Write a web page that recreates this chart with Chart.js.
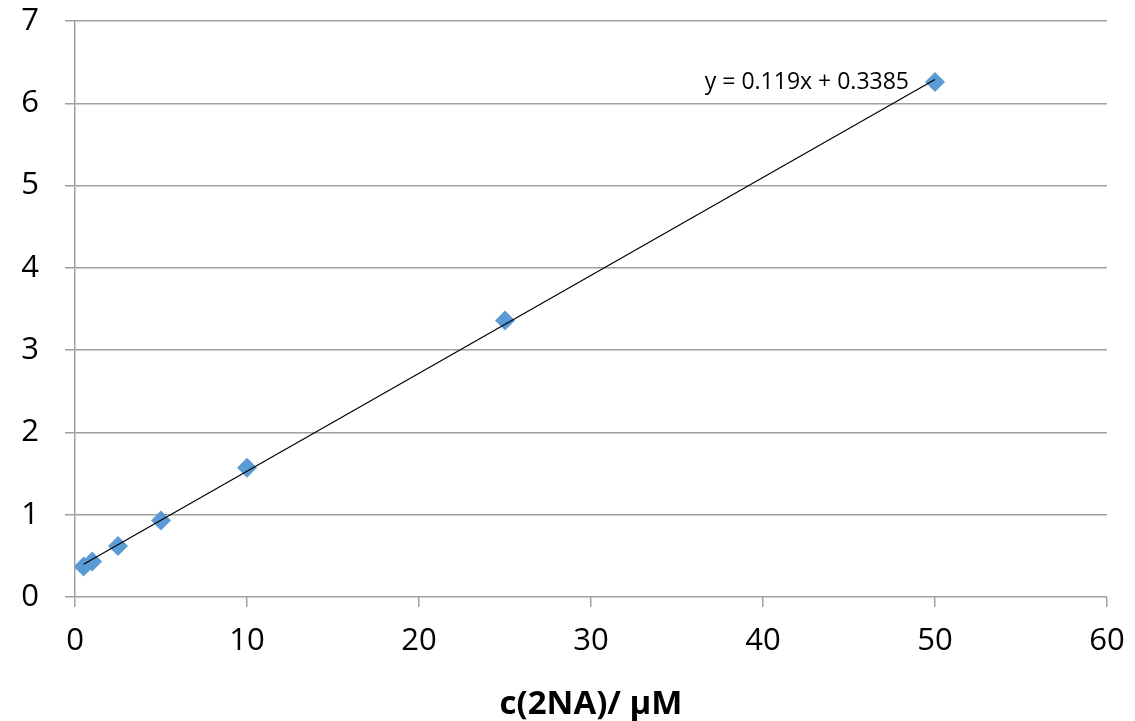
<!DOCTYPE html>
<html lang="en">
  <head>
    <meta charset="UTF-8" />
    <script src="https://cdn.jsdelivr.net/npm/chart.js"></script>
    <title>c(2NA) calibration</title>
    <style>
      html,
      body {
        margin: 0;
        padding: 0;
        background: #ffffff;
      }
      canvas {
        display: block;
      }
    </style>
  </head>
  <body>
    <canvas id="myChart" width="1135" height="721"></canvas>
  </body>
</html>
<script>
  // measured points
  const concentration = [0.5, 1, 2.5, 5, 10, 25, 50];
  const signal = [0.37, 0.43, 0.62, 0.93, 1.57, 3.36, 6.26];

  // linear trendline, ends at first and last x
  const trendX = [0.5, 50];
  const trendY = [0.398, 6.289];
  const trendLabel = "y = 0.119x + 0.3385";

  const xTicks = [0, 10, 20, 30, 40, 50, 60];
  const yTicks = [0, 1, 2, 3, 4, 5, 6, 7];

  const FONT = "'Open Sans', 'DejaVu Sans', sans-serif";
  const GRID = "#a0a0a0";

  // draws the equation next to the last point
  const trendLabelPlugin = {
    id: "trendLabel",
    afterDatasetsDraw(chart) {
      const { ctx, scales } = chart;
      const px = scales.x.getPixelForValue(trendX[1]) - 26;
      const py = scales.y.getPixelForValue(signal[signal.length - 1]) + 1;
      ctx.save();
      ctx.font = "23px " + FONT;
      ctx.fillStyle = "#000000";
      ctx.textAlign = "right";
      ctx.textBaseline = "middle";
      ctx.fillText(trendLabel, px, py);
      ctx.restore();
    },
  };

  const ctx = document.getElementById("myChart").getContext("2d");
  const myChart = new Chart(ctx, {
    type: "scatter",
    data: {
      datasets: [
        {
          label: "Linear",
          data: trendX.map((x, i) => ({ x: x, y: trendY[i] })),
          showLine: true,
          borderColor: "#000000",
          borderWidth: 1.2,
          pointRadius: 0,
          order: 0,
        },
        {
          label: "2NA",
          data: concentration.map((x, i) => ({ x: x, y: signal[i] })),
          pointStyle: "rectRot",
          pointRadius: 10,
          pointHoverRadius: 10,
          backgroundColor: "#5b9bd5",
          borderColor: "#5b9bd5",
          borderWidth: 0,
          order: 1,
        },
      ],
    },
    options: {
      responsive: false,
      animation: false,
      layout: { padding: { top: 21, right: 28, left: 0, bottom: 0 } },
      plugins: {
        legend: { display: false },
        tooltip: { enabled: false },
      },
      scales: {
        x: {
          type: "linear",
          min: xTicks[0],
          max: xTicks[xTicks.length - 1],
          afterBuildTicks: (axis) => {
            axis.ticks = xTicks.map((v) => ({ value: v }));
          },
          afterFit: (axis) => {
            axis.height = 124;
            axis.paddingLeft = 0;
            axis.paddingRight = 0;
          },
          grid: {
            drawOnChartArea: false,
            drawTicks: true,
            tickLength: 10,
            color: GRID,
            lineWidth: 1.5,
          },
          border: { display: false },
          ticks: {
            padding: 16,
            color: "#000000",
            font: { family: FONT, size: 31 },
            maxRotation: 0,
          },
          title: {
            display: true,
            text: "c(2NA)/ µM",
            color: "#000000",
            font: { family: FONT, size: 33, weight: "bold", lineHeight: 1 },
            padding: { top: 0, bottom: 0 },
          },
        },
        y: {
          type: "linear",
          min: yTicks[0],
          max: yTicks[yTicks.length - 1],
          afterBuildTicks: (axis) => {
            axis.ticks = yTicks.map((v) => ({ value: v }));
          },
          afterFit: (axis) => {
            axis.width = 75;
            axis.paddingTop = 0;
            axis.paddingBottom = 0;
          },
          grid: {
            drawTicks: true,
            tickLength: 10,
            color: GRID,
            lineWidth: 1.5,
          },
          border: { display: true, color: GRID, width: 1.5 },
          ticks: {
            padding: 26,
            color: "#000000",
            font: { family: FONT, size: 31 },
          },
        },
      },
    },
    plugins: [trendLabelPlugin],
  });
</script>
